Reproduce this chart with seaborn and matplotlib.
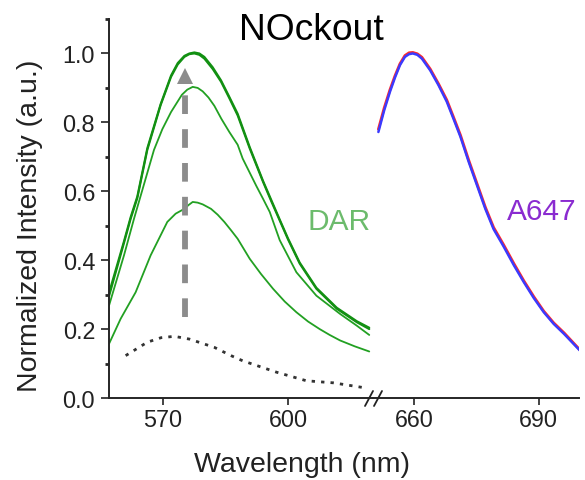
import matplotlib
matplotlib.use("Agg")
import matplotlib.pyplot as plt
from matplotlib.lines import Line2D
from matplotlib.ticker import MultipleLocator, FixedLocator
import seaborn as sns

# ---------------- data ----------------
dar_wl_a = [557.0, 560.6, 562.2, 563.8, 566.2, 569.4, 571.9, 573.5, 575.1, 576.3,
            577.5, 578.7, 579.9, 581.9, 583.9, 585.9, 587.9, 590.8, 594.0, 596.0,
            598.0, 600.0, 602.8, 606.8, 611.7, 616.5, 619.5]
dar_a1 = [0.295, 0.45, 0.52, 0.58, 0.72, 0.85, 0.932, 0.968, 0.99, 0.998,
          1.0, 0.996, 0.985, 0.955, 0.918, 0.87, 0.82, 0.724, 0.627, 0.57,
          0.515, 0.46, 0.39, 0.317, 0.259, 0.22, 0.20]
dar_a2 = [0.305, 0.455, 0.525, 0.585, 0.725, 0.853, 0.936, 0.972, 0.993, 1.0,
          1.003, 1.0, 0.99, 0.96, 0.922, 0.874, 0.825, 0.728, 0.63, 0.574,
          0.518, 0.463, 0.393, 0.32, 0.262, 0.223, 0.204]
dar_wl_b = [557.0, 560.6, 563.0, 567.8, 569.8, 571.9, 574.5, 575.8, 577.1, 578.3,
            579.5, 580.9, 582.3, 584.0, 585.9, 587.9, 589.1, 592.4, 594.0, 595.6,
            598.0, 602.0, 606.8, 612.5, 616.5, 619.5]
dar_b = [0.268, 0.414, 0.52, 0.72, 0.78, 0.83, 0.88, 0.895, 0.903, 0.9,
         0.89, 0.872, 0.848, 0.81, 0.772, 0.735, 0.695, 0.615, 0.578, 0.54,
         0.458, 0.365, 0.297, 0.244, 0.21, 0.183]
dar_wl_c = [557.0, 559.8, 563.4, 567.0, 571.0, 573.0, 575.1, 576.1, 577.1, 578.3,
            579.5, 581.5, 583.1, 584.7, 586.3, 587.9, 590.8, 593.5, 596.4, 599.2,
            602.0, 604.8, 607.6, 610.0, 612.5, 616.0, 619.5]
dar_c = [0.157, 0.23, 0.307, 0.414, 0.511, 0.535, 0.549, 0.56, 0.569, 0.567,
         0.562, 0.549, 0.532, 0.511, 0.487, 0.462, 0.404, 0.36, 0.317, 0.28,
         0.249, 0.222, 0.2, 0.183, 0.167, 0.15, 0.135]
dar_wl_off = [561.0, 566.2, 569.5, 572.7, 576.3, 582.3, 586.3, 589.1, 597.2,
              604.4, 610.9, 617.7]
dar_off = [0.123, 0.162, 0.175, 0.179, 0.171, 0.147, 0.123, 0.108, 0.075,
           0.05, 0.044, 0.031]
arrow_x = [575.3, 575.3]
arrow_y = [0.235, 0.915]
arrow_tip = 0.935

a647_wl = [651.3, 652.7, 654.1, 655.3, 656.5, 657.7, 658.7, 659.6, 660.7, 661.8,
           663.8, 665.8, 667.8, 669.4, 671.1, 673.1, 675.1, 677.1, 679.1, 681.5,
           684.0, 686.4, 688.8, 691.2, 693.6, 696.1, 699.9]
a647_blue = [0.772, 0.835, 0.889, 0.93, 0.966, 0.99, 0.998, 1.0, 0.996, 0.985,
             0.951, 0.908, 0.86, 0.811, 0.758, 0.685, 0.617, 0.549, 0.49, 0.44,
             0.385, 0.336, 0.29, 0.249, 0.215, 0.186, 0.138]
a647_red = [0.78, 0.842, 0.895, 0.935, 0.97, 0.994, 1.002, 1.003, 0.999, 0.989,
            0.955, 0.912, 0.865, 0.816, 0.763, 0.69, 0.622, 0.554, 0.495, 0.445,
            0.39, 0.34, 0.294, 0.252, 0.218, 0.189, 0.14]

left_ticks = [570, 600]
right_ticks = [660, 690]
y_ticks = [0.0, 0.2, 0.4, 0.6, 0.8, 1.0]

# ---------------- style ----------------
sns.set_style("ticks")
plt.rcParams["font.family"] = ["Liberation Sans", "DejaVu Sans"]

W, H = 585, 481
fig = plt.figure(figsize=(W / 100, H / 100), dpi=100)

def fx(px):
    return px / W

def fy(py):
    return 1 - py / H

x_left, x_break, x_right = 109, 373, 579
y_top, y_bot = 20, 399
axL = fig.add_axes([fx(x_left), fy(y_bot), fx(x_break - x_left), (y_bot - y_top) / H])
axR = fig.add_axes([fx(x_break), fy(y_bot), fx(x_right - x_break), (y_bot - y_top) / H])

g_thin = "#22a022"
g_thick = "#129012"

sns.lineplot(x=dar_wl_c, y=dar_c, ax=axL, color=g_thin, lw=1.3, sort=False)
sns.lineplot(x=dar_wl_b, y=dar_b, ax=axL, color=g_thin, lw=1.3, sort=False)
sns.lineplot(x=dar_wl_a, y=dar_a1, ax=axL, color=g_thick, lw=1.5, sort=False)
sns.lineplot(x=dar_wl_a, y=dar_a2, ax=axL, color=g_thick, lw=1.5, sort=False)
sns.lineplot(x=dar_wl_off, y=dar_off, ax=axL, color="#333333", lw=2.0,
             linestyle=(0, (1.2, 2.2)), sort=False)

axL.plot(arrow_x, arrow_y, color="#8c8c8c", lw=4.2, linestyle=(0, (3.2, 2.6)),
         solid_capstyle="butt", dash_capstyle="butt")
axL.plot([arrow_x[0]], [arrow_tip], marker="^", color="#8c8c8c", ms=11, mew=0,
         linestyle="none")

sns.lineplot(x=a647_wl, y=a647_red, ax=axR, color="#ff2a2a", lw=2.0, sort=False)
sns.lineplot(x=a647_wl, y=a647_blue, ax=axR, color="#3a3aff", lw=1.8, sort=False)

for ax in (axL, axR):
    ax.set_ylim(0, 1.1)
    ax.spines["top"].set_visible(False)
    ax.spines["right"].set_visible(False)
    ax.spines["bottom"].set_linewidth(1.4)
    ax.spines["left"].set_linewidth(1.4)
    ax.set_xlabel("")
    ax.set_ylabel("")
    ax.tick_params(axis="x", direction="out", length=5, width=1.2,
                   labelsize=16.8, pad=2, colors="#222222")
    ax.set_facecolor("none")

axL.set_xlim(557.0, 620.4)
axR.set_xlim(650.0, 699.7)
axL.xaxis.set_major_locator(FixedLocator(left_ticks))
axR.xaxis.set_major_locator(FixedLocator(right_ticks))
axL.set_xticklabels([str(t) for t in left_ticks])
axR.set_xticklabels([str(t) for t in right_ticks])

axL.yaxis.set_major_locator(FixedLocator(y_ticks))
axL.yaxis.set_minor_locator(MultipleLocator(0.1))
axL.set_yticklabels([f"{t:.1f}" for t in y_ticks])
axL.tick_params(axis="y", which="major", direction="out", length=6, width=1.2,
                labelsize=16.8, pad=4, colors="#222222")
axL.tick_params(axis="y", which="minor", direction="out", length=3, width=2.0)

axR.spines["left"].set_visible(False)
axR.tick_params(axis="y", left=False, labelleft=False, which="both")

# break marks on the x axis
for dx in (-8, 1):
    fig.add_artist(Line2D([fx(x_break + dx), fx(x_break + dx + 8)],
                          [fy(y_bot + 8), fy(y_bot - 7)],
                          transform=fig.transFigure, color="#222222", lw=1.3))

# texts
fig.text(fx(311.5), fy(40), "NOckout", ha="center", va="baseline", fontsize=26.8,
         color="black")
fig.text(fx(30), fy(225.5), "Normalized Intensity (a.u.)", rotation=90,
         ha="center", va="center", fontsize=20.5, color="#222222")
fig.text(fx(302), fy(472.5), "Wavelength (nm)", ha="center", va="baseline",
         fontsize=20.5, color="#222222")
fig.text(fx(308), fy(230), "DAR", ha="left", va="baseline", fontsize=21.5,
         color="#6cbb6c")
fig.text(fx(507), fy(220), "A647", ha="left", va="baseline", fontsize=21.5,
         color="#8a2bd0")

fig.savefig("out.png", dpi=100)
